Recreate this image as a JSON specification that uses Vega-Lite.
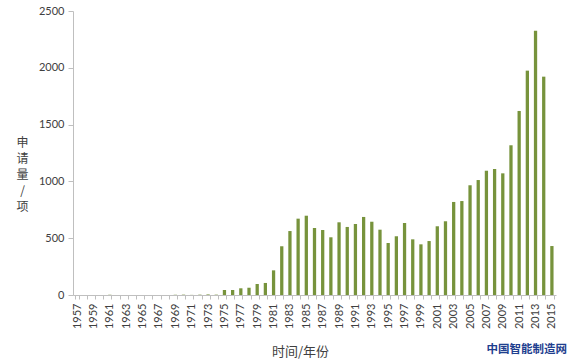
{
  "$schema": "https://vega.github.io/schema/vega-lite/v6.json",
  "autosize": {"type": "none"},
  "padding": {"left": 73, "top": 11, "right": 17, "bottom": 66},
  "width": 483,
  "height": 284,
  "background": "white",
  "title": {
    "text": "中国智能制造网",
    "orient": "bottom",
    "anchor": "end",
    "frame": "group",
    "font": "Noto Sans CJK SC",
    "fontSize": 11.5,
    "fontWeight": "bold",
    "color": "#1F3F8F",
    "dx": 11,
    "offset": -14
  },
  "data": {
    "values": [
      {"year": 1957, "count": 0}, {"year": 1958, "count": 0}, {"year": 1959, "count": 0},
      {"year": 1960, "count": 0}, {"year": 1961, "count": 3}, {"year": 1962, "count": 0},
      {"year": 1963, "count": 0}, {"year": 1964, "count": 0}, {"year": 1965, "count": 0},
      {"year": 1966, "count": 0}, {"year": 1967, "count": 0}, {"year": 1968, "count": 0},
      {"year": 1969, "count": 2}, {"year": 1970, "count": 3}, {"year": 1971, "count": 1},
      {"year": 1972, "count": 3}, {"year": 1973, "count": 5}, {"year": 1974, "count": 3},
      {"year": 1975, "count": 44}, {"year": 1976, "count": 44}, {"year": 1977, "count": 59},
      {"year": 1978, "count": 64}, {"year": 1979, "count": 97}, {"year": 1980, "count": 106},
      {"year": 1981, "count": 217}, {"year": 1982, "count": 429}, {"year": 1983, "count": 563},
      {"year": 1984, "count": 672}, {"year": 1985, "count": 698}, {"year": 1986, "count": 590},
      {"year": 1987, "count": 572}, {"year": 1988, "count": 508}, {"year": 1989, "count": 640},
      {"year": 1990, "count": 599}, {"year": 1991, "count": 625}, {"year": 1992, "count": 687},
      {"year": 1993, "count": 645}, {"year": 1994, "count": 575}, {"year": 1995, "count": 458},
      {"year": 1996, "count": 517}, {"year": 1997, "count": 634}, {"year": 1998, "count": 490},
      {"year": 1999, "count": 446}, {"year": 2000, "count": 475}, {"year": 2001, "count": 605},
      {"year": 2002, "count": 649}, {"year": 2003, "count": 819}, {"year": 2004, "count": 827},
      {"year": 2005, "count": 966}, {"year": 2006, "count": 1012}, {"year": 2007, "count": 1094},
      {"year": 2008, "count": 1109}, {"year": 2009, "count": 1071}, {"year": 2010, "count": 1318},
      {"year": 2011, "count": 1620}, {"year": 2012, "count": 1975}, {"year": 2013, "count": 2327},
      {"year": 2014, "count": 1922}, {"year": 2015, "count": 431}
    ]
  },
  "mark": {"type": "bar", "color": "#77933C"},
  "encoding": {
    "x": {
      "field": "year",
      "type": "ordinal",
      "scale": {"paddingInner": 0.6, "paddingOuter": 0.3},
      "axis": {
        "title": "时间/年份",
        "titleFont": "Noto Sans CJK SC",
        "titleFontSize": 13,
        "titleFontWeight": "normal",
        "titleColor": "#404040",
        "titleX": 227,
        "titleY": 56,
        "titleAlign": "center",
        "titleBaseline": "middle",
        "labelAngle": -90,
        "labelAlign": "right",
        "labelBaseline": "middle",
        "labelFont": "Lato",
        "labelFontSize": 11,
        "labelColor": "#404040",
        "labelPadding": 4,
        "labelExpr": "datum.value % 2 == 1 ? datum.label : ''",
        "labelOverlap": false,
        "tickBand": "extent",
        "tickSize": 4,
        "tickColor": "#BFBFBF",
        "domainColor": "#BFBFBF"
      }
    },
    "y": {
      "field": "count",
      "type": "quantitative",
      "scale": {"domain": [0, 2500], "nice": false},
      "axis": {
        "values": [0, 500, 1000, 1500, 2000, 2500],
        "format": "d",
        "grid": false,
        "title": ["申", "请", "量", "/", "项"],
        "titleAngle": 0,
        "titleX": -51,
        "titleY": 131,
        "titleAlign": "center",
        "titleBaseline": "middle",
        "titleLineHeight": 16,
        "titleFont": "Noto Sans CJK SC",
        "titleFontSize": 12,
        "titleFontWeight": "normal",
        "titleColor": "#404040",
        "labelFont": "Lato",
        "labelFontSize": 11,
        "labelColor": "#404040",
        "labelPadding": 4,
        "tickSize": 5,
        "tickColor": "#BFBFBF",
        "domainColor": "#BFBFBF"
      }
    }
  },
  "config": {"view": {"stroke": null}}
}
